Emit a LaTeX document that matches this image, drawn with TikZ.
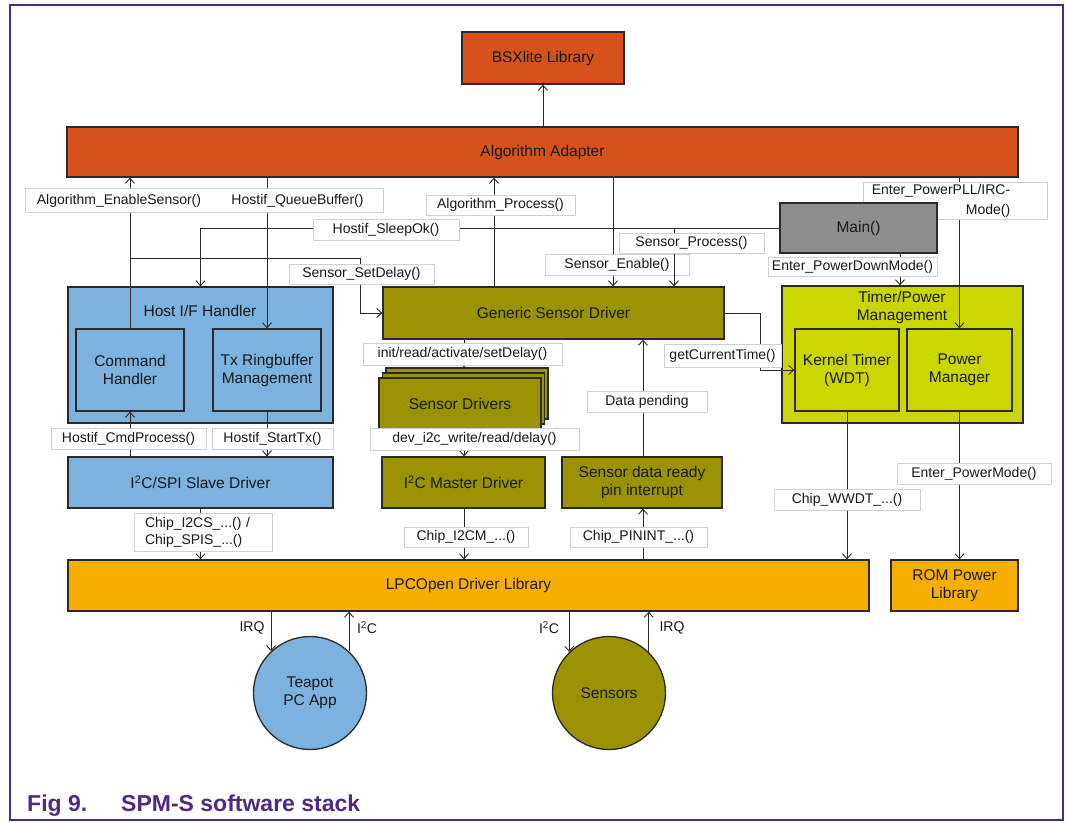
\documentclass[tikz,border=0pt]{standalone}
\usepackage{fontspec}
\setmainfont{Liberation Sans}
\usetikzlibrary{arrows.meta,fit,calc}
\pgfdeclarelayer{lines}
\pgfdeclarelayer{labels}
\pgfdeclarelayer{top}
\pgfsetlayers{main,lines,labels,top}
\definecolor{orred}{HTML}{D5521B}
\definecolor{hblue}{HTML}{7DB2DF}
\definecolor{oliv}{HTML}{9A9200}
\definecolor{ygreen}{HTML}{CBD500}
\definecolor{mgray}{HTML}{8E8E8E}
\definecolor{lorange}{HTML}{F6AE00}
\definecolor{nxppurple}{HTML}{4E2A84}
\definecolor{lblline}{HTML}{D0D0D0}
\definecolor{linec}{HTML}{2A2A2A}
\newcommand\bxfont{\fontsize{15.5}{18}\selectfont}
\newcommand\lbfont{\fontsize{14}{17}\selectfont}
\tikzset{
  box/.style={draw=linec, line width=1.3pt, inner sep=2pt, align=center, font=\bxfont, text=black!90},
  lbl/.style={fill=white, draw=lblline, line width=0.8pt, inner sep=0pt, font=\lbfont, text=black!90},
  arr/.style={draw=linec, line width=0.9pt, -{Straight Barb[length=5pt,width=9pt]}},
  plain/.style={font=\lbfont, text=black!90, inner sep=0pt},
  capt/.style={font=\bfseries\fontsize{23}{27}\selectfont, text=nxppurple, anchor=base west, inner sep=0pt}
}
\begin{document}
\begin{tikzpicture}[x=1pt,y=-1pt]
\useasboundingbox[fill=white] (0,0) rectangle (1067,822);
\draw[nxppurple, line width=1.5pt] (10,5) rectangle (1063,820);

% boxes
\node[box, fill=orred, minimum width=162pt, minimum height=52pt] (bsx) at (543,58) {BSXlite Library};
\node[box, fill=orred, minimum width=951pt, minimum height=50pt] (adapter) at (542.5,152) {Algorithm Adapter};

\node[box, fill=hblue, minimum width=265pt, minimum height=136pt] (hostif) at (200.5,355) {};
\node[font=\bxfont, text=black!90, inner sep=0pt] (hostifT) at (200,311) {Host I/F Handler};
\node[box, fill=hblue, minimum width=108pt, minimum height=82pt] (cmd) at (130,370) {Command\\Handler};
\node[box, fill=hblue, minimum width=108pt, minimum height=82pt] (txr) at (267,370) {Tx Ringbuffer\\Management};
\node[box, fill=hblue, minimum width=265pt, minimum height=51pt] (slave) at (200.5,482.5) {I\textsuperscript{2}C/SPI Slave Driver};

\node[box, fill=oliv, minimum width=341pt, minimum height=52pt] (generic) at (553.5,313) {Generic Sensor Driver};
\node[box, fill=oliv, minimum width=162pt, minimum height=51pt] (sdrvB) at (467,393.5) {};
\node[box, fill=oliv, minimum width=162pt, minimum height=51pt] (sdrvM) at (463.5,398.5) {};
\node[box, fill=oliv, minimum width=162pt, minimum height=51pt] (sdrv) at (460,403.5) {Sensor Drivers};
\node[box, fill=oliv, minimum width=163pt, minimum height=51pt] (i2cm) at (463.5,482.5) {I\textsuperscript{2}C Master Driver};
\node[box, fill=oliv, minimum width=160pt, minimum height=51pt] (pinint) at (642,482.5) {Sensor data ready\\pin interrupt};

\node[box, fill=ygreen, minimum width=241pt, minimum height=137pt] (timer) at (902.5,354.5) {};
\node[font=\bxfont, text=black!90, align=center, inner sep=0pt] (timerT) at (902,307) {Timer/Power\\Management};
\node[box, fill=ygreen, minimum width=104pt, minimum height=82pt] (kt) at (847,370) {Kernel Timer\\(WDT)};
\node[box, fill=ygreen, minimum width=105pt, minimum height=82pt] (pm) at (959.5,370) {Power\\Manager};

\node[box, fill=lorange, minimum width=801pt, minimum height=51pt] (lpc) at (468.5,585.5) {LPCOpen Driver Library};
\node[box, fill=lorange, minimum width=127pt, minimum height=51pt] (rom) at (954.5,585.5) {ROM Power\\Library};

\node[box, circle, fill=hblue, minimum size=113pt, inner sep=0pt] (teapot) at (310,693) {Teapot\\PC App};
\node[box, circle, fill=oliv, minimum size=113pt, inner sep=0pt] (sensors) at (609,693) {Sensors};

\begin{pgfonlayer}{top}
\node[box, fill=mgray, minimum width=157pt, minimum height=50pt] (main) at (858.5,228) {Main()};
\end{pgfonlayer}

% connectors
\begin{pgfonlayer}{lines}
\draw[arr] (bsx.south |- adapter.north) -- (bsx.south);
\draw[arr] (cmd.north) -- (cmd.north |- adapter.south);
\coordinate (sd1) at (130,258);
\coordinate (sd2) at (360,258);
\draw[arr] (sd1) -- (sd2) |- (generic.west);
\draw[arr] (txr.north |- adapter.south) -- (txr.north);
\draw[arr] (main.west) -| (hostif.north);
\coordinate (ap) at (494,0);
\draw[arr] (ap |- generic.north) -- (ap |- adapter.south);
\coordinate (se) at (613,0);
\draw[arr] (se |- adapter.south) -- (se |- generic.north);
\draw[arr] (generic.east) -- ++(36,0) |- (kt.west);
\coordinate (ir) at (464,0);
\draw[arr] (ir |- generic.south) -- (ir |- sdrvB.north);
\draw[arr] (ir |- sdrv.south) -- (ir |- i2cm.north);
\draw[arr] (ir |- i2cm.south) -- (ir |- lpc.north);
\coordinate (pi) at (643,0);
\draw[arr] (pi |- lpc.north) -- (pi |- pinint.south);
\draw[arr] (pi |- pinint.north) -- (pi |- generic.south);
\draw[arr] (cmd.south |- slave.north) -- (cmd.south);
\draw[arr] (txr.south) -- (txr.south |- slave.north);
\draw[arr] (slave.south) -- (slave.south |- lpc.north);
\coordinate (pd) at (900,0);
\draw[arr] (pd |- main.south) -- (pd |- timer.north);
\draw[arr] (pm.north |- adapter.south) -- (pm.north);
\draw[arr] (kt.south) -- (kt.south |- lpc.north);
\draw[arr] (pm.south) -- (pm.south |- rom.north);
\draw[arr] (teapot.133 |- lpc.south) -- (teapot.133);
\draw[arr] (teapot.47) -- (teapot.47 |- lpc.south);
\draw[arr] (sensors.134 |- lpc.south) -- (sensors.134);
\draw[arr] (sensors.46) -- (sensors.46 |- lpc.south);
\end{pgfonlayer}

% labels
\begin{pgfonlayer}{labels}
\node[lbl, draw=none, minimum width=186pt, minimum height=23pt] (lEn) at (119,200.5) {Algorithm\_EnableSensor()};
\node[lbl, draw=none, minimum width=171pt, minimum height=23pt] (lQB) at (297.5,200.5) {Hostif\_QueueBuffer()};
\node[draw=lblline, line width=0.8pt, inner sep=0pt, fit=(lEn)(lQB)] (lEQ) {};
\node[lbl, minimum width=149pt, minimum height=20pt] (lProc) at (500.5,205) {Algorithm\_Process()};
\node[lbl, minimum width=146pt, minimum height=21pt] (lSleep) at (386,229.5) {Hostif\_SleepOk()};
\node[lbl, minimum width=145pt, minimum height=20pt] (lSetD) at (361.5,274) {Sensor\_SetDelay()};
\node[lbl, minimum width=144pt, minimum height=21pt] (lSEn) at (617,264.5) {Sensor\_Enable()};
\coordinate (sp) at (674,228);
\draw[arr] (sp) -- (sp |- generic.north);
\node[lbl, minimum width=145pt, minimum height=20pt] (lSProc) at (691.5,243) {Sensor\_Process()};
\node[lbl, minimum width=184pt, minimum height=37pt] (lPLL) at (955,200.5) {};
\node[font=\fontsize{14}{20}\selectfont, text=black!90, align=right, inner sep=0pt] (lPLLt) at (941,201) {Enter\_PowerPLL/IRC-\\Mode()};
\node[lbl, minimum width=169pt, minimum height=19pt] (lPD) at (852.5,266.5) {Enter\_PowerDownMode()};
\node[lbl, minimum width=199pt, minimum height=22pt] (lInit) at (462.5,354) {init/read/activate/setDelay()};
\node[lbl, minimum width=117pt, minimum height=23pt] (lGCT) at (722.5,355.5) {getCurrentTime()};
\node[lbl, minimum width=120pt, minimum height=21pt] (lDP) at (647,401.5) {Data pending};
\node[lbl, minimum width=209pt, minimum height=22pt] (lDev) at (474.5,439) {dev\_i2c\_write/read/delay()};
\node[lbl, minimum width=155pt, minimum height=21pt] (lCmd) at (128.5,438.5) {Hostif\_CmdProcess()};
\node[lbl, minimum width=121pt, minimum height=21pt] (lStart) at (272.5,438.5) {Hostif\_StartTx()};
\node[lbl, minimum width=138pt, minimum height=38pt, text width=116pt, align=left] (lI2CS) at (203,532) {Chip\_I2CS\_...() /\\Chip\_SPIS\_...()};
\node[lbl, minimum width=124pt, minimum height=20pt] (lI2CM) at (466,537) {Chip\_I2CM\_...()};
\node[lbl, minimum width=137pt, minimum height=20pt] (lPIN) at (638.5,537) {Chip\_PININT\_...()};
\node[lbl, minimum width=146pt, minimum height=21pt] (lWWDT) at (847,499.5) {Chip\_WWDT\_...()};
\node[lbl, minimum width=154pt, minimum height=21pt] (lPM) at (974,473.5) {Enter\_PowerMode()};
\node[plain] (irq1) at (252,628) {IRQ};
\node[plain] (i2c1) at (367,628) {I\textsuperscript{2}C};
\node[plain] (i2c2) at (549,628) {I\textsuperscript{2}C};
\node[plain] (irq2) at (672,628) {IRQ};
\end{pgfonlayer}

\node[capt] (cap1) at (27,811) {Fig 9.};
\node[capt] (cap2) at (121,811) {SPM-S software stack};
\end{tikzpicture}
\end{document}
